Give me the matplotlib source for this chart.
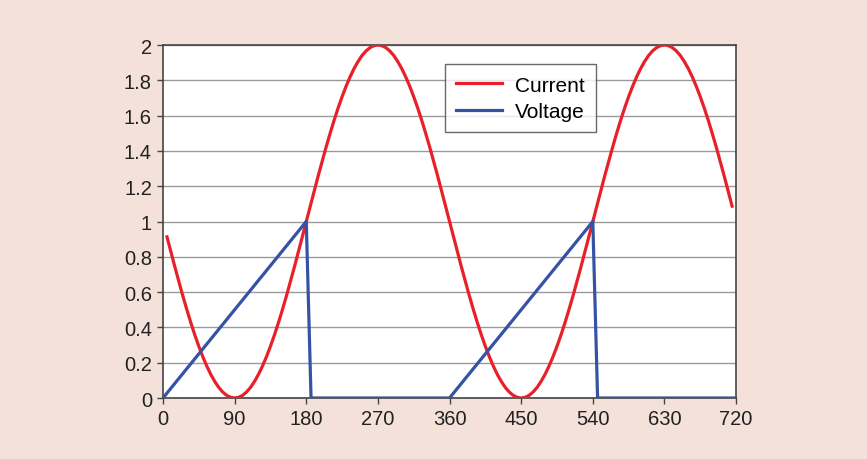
import numpy as np
import matplotlib.pyplot as plt

plt.rcParams['font.family'] = ['Liberation Sans', 'DejaVu Sans']

# current, read every 5 degrees (5 .. 715)
current_x = list(range(5, 720, 5))
current_y = [0.913, 0.826, 0.741, 0.658, 0.577, 0.500, 0.426, 0.357, 0.293, 0.234,
             0.181, 0.134, 0.094, 0.060, 0.034, 0.015, 0.004, 0.000, 0.004, 0.015,
             0.034, 0.060, 0.094, 0.134, 0.181, 0.234, 0.293, 0.357, 0.426, 0.500,
             0.577, 0.658, 0.741, 0.826, 0.913, 1.000, 1.087, 1.174, 1.259, 1.342,
             1.423, 1.500, 1.574, 1.643, 1.707, 1.766, 1.819, 1.866, 1.906, 1.940,
             1.966, 1.985, 1.996, 2.000, 1.996, 1.985, 1.966, 1.940, 1.906, 1.866,
             1.819, 1.766, 1.707, 1.643, 1.574, 1.500, 1.423, 1.342, 1.259, 1.174,
             1.087, 1.000,
             0.913, 0.826, 0.741, 0.658, 0.577, 0.500, 0.426, 0.357, 0.293, 0.234,
             0.181, 0.134, 0.094, 0.060, 0.034, 0.015, 0.004, 0.000, 0.004, 0.015,
             0.034, 0.060, 0.094, 0.134, 0.181, 0.234, 0.293, 0.357, 0.426, 0.500,
             0.577, 0.658, 0.741, 0.826, 0.913, 1.000, 1.087, 1.174, 1.259, 1.342,
             1.423, 1.500, 1.574, 1.643, 1.707, 1.766, 1.819, 1.866, 1.906, 1.940,
             1.966, 1.985, 1.996, 2.000, 1.996, 1.985, 1.966, 1.940, 1.906, 1.866,
             1.819, 1.766, 1.707, 1.643, 1.574, 1.500, 1.423, 1.342, 1.259, 1.174,
             1.087]

voltage_x = [0, 180, 186, 360, 540, 546, 720]
voltage_y = [0, 1, 0, 0, 1, 0, 0]

x_ticks = [0, 90, 180, 270, 360, 450, 540, 630, 720]
y_ticks = [0, 0.2, 0.4, 0.6, 0.8, 1, 1.2, 1.4, 1.6, 1.8, 2]
y_labels = ['0', '0.2', '0.4', '0.6', '0.8', '1', '1.2', '1.4', '1.6', '1.8', '2']

bg = '#f4e1da'
fig = plt.figure(figsize=(8.67, 4.6), dpi=100, facecolor=bg)
ax = fig.add_axes([0.188, 0.1326, 0.661, 0.7674])
ax.set_facecolor('white')

ax.plot(current_x, current_y, color='#e8202a', lw=2.3, label='Current',
        zorder=3, solid_joinstyle='round')
ax.plot(voltage_x, voltage_y, color='#3552a4', lw=2.3, label='Voltage', zorder=3)

ax.set_xlim(0, 720)
ax.set_ylim(0, 2)
ax.set_xticks(x_ticks)
ax.set_yticks(y_ticks)
ax.set_yticklabels(y_labels)
ax.yaxis.grid(True, color='#9a9a9a', lw=1)
ax.set_axisbelow(True)
for s in ax.spines.values():
    s.set_color('#444444')
    s.set_linewidth(1.2)
ax.tick_params(labelsize=14.5, labelcolor='#222222', color='#444444',
               length=4, width=1, pad=4)

leg = ax.legend(loc='upper left', bbox_to_anchor=(0.492, 0.946), fontsize=15,
                frameon=True, fancybox=False, edgecolor='#444444',
                handlelength=2.2, borderpad=0.55, labelspacing=0.35,
                handletextpad=0.6, borderaxespad=0)
leg.get_frame().set_linewidth(1)

fig.savefig('out.png', dpi=100, facecolor=bg)
